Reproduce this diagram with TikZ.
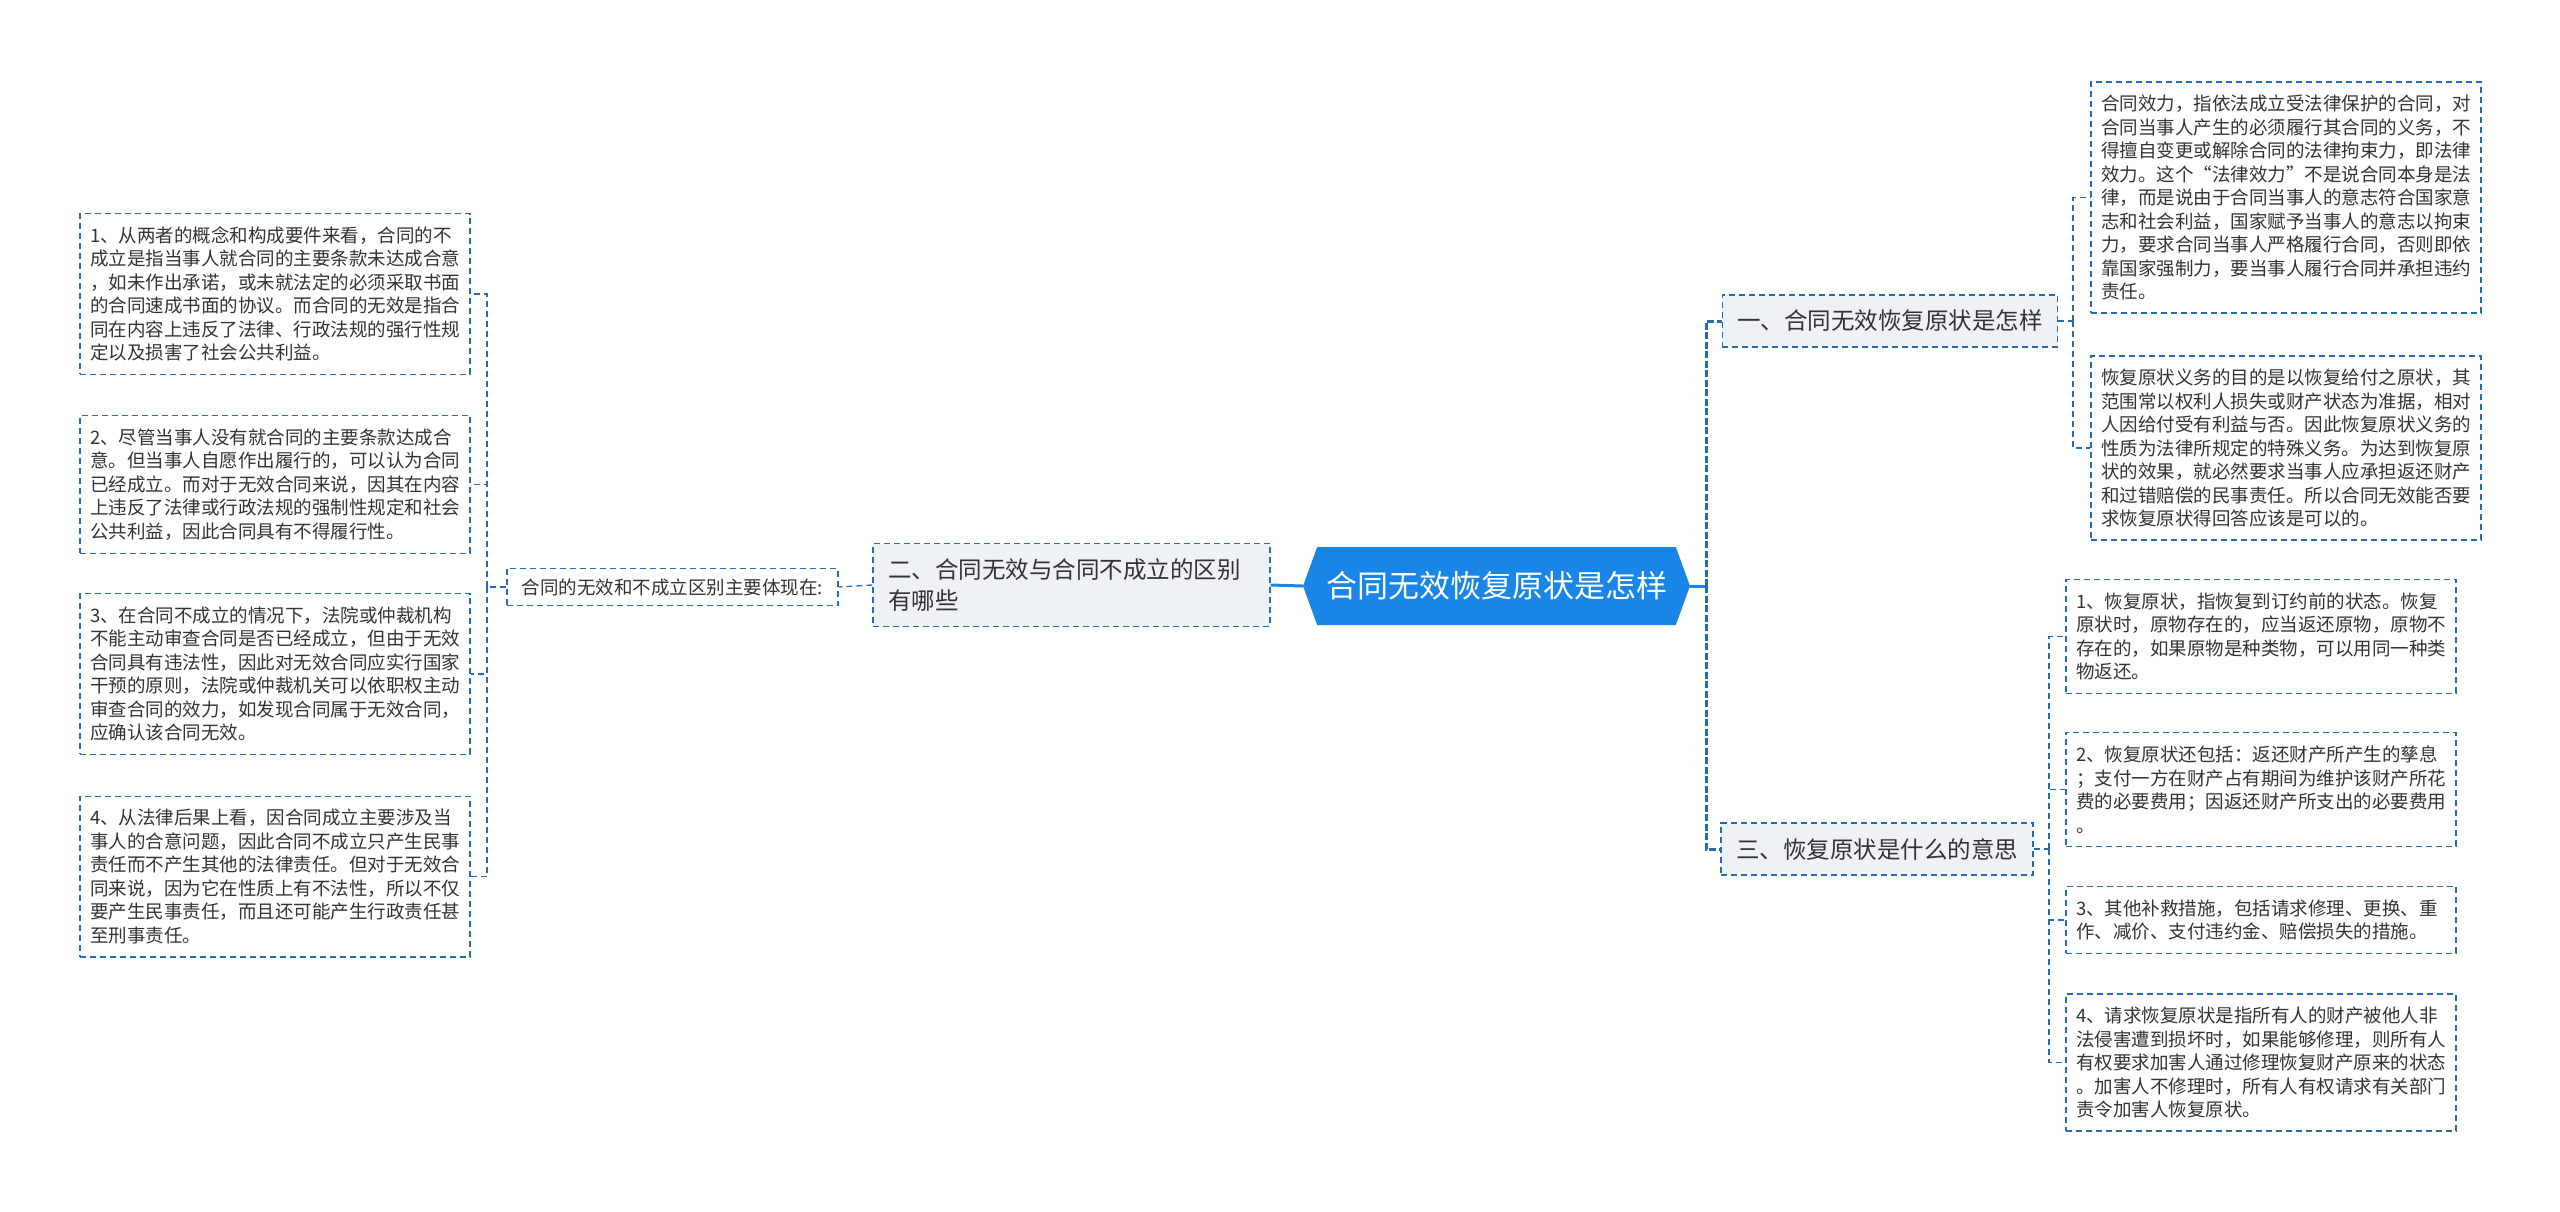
\documentclass[tikz,border=0pt]{standalone}
\usepackage{fontspec}
\setmainfont{Noto Sans CJK SC}
\usetikzlibrary{shapes.symbols}
\definecolor{rootblue}{RGB}{25,133,230}
\definecolor{linkblue}{RGB}{38,108,176}
\definecolor{branchgray}{RGB}{238,241,245}
\definecolor{inktext}{RGB}{51,51,51}
\tikzset{
  rootbox/.style={signal, signal to=west and east, signal pointer angle=140,
    fill=rootblue, text=white, minimum height=78pt, minimum width=387pt,
    inner xsep=3pt, font=\fontsize{31pt}{36pt}\selectfont},
  branchbox/.style={draw=linkblue, dash pattern=on 6pt off 4pt, line width=1.3pt,
    fill=branchgray, text=inktext, align=left, inner xsep=15pt, inner ysep=15pt,
    font=\fontsize{23.5pt}{31pt}\selectfont},
  midbox/.style={draw=linkblue, dash pattern=on 6pt off 4pt, line width=1.3pt,
    fill=white, text=inktext, inner xsep=15pt, inner ysep=10pt,
    font=\fontsize{18.5pt}{23.5pt}\selectfont},
  leafbox/.style={draw=linkblue, dash pattern=on 6pt off 4pt, line width=1.3pt,
    fill=white, text=inktext, align=left, text width=370pt, inner xsep=10pt,
    inner ysep=13pt, font=\fontsize{18.5pt}{23.5pt}\selectfont},
  link/.style={draw=linkblue, dash pattern=on 6pt off 4pt, line width=1.3pt},
  trunk/.style={draw=linkblue, dash pattern=on 7pt off 2.5pt, line width=3pt},
  rootlink/.style={draw=rootblue, line width=3pt}
}
\begin{document}
\begin{tikzpicture}[x=1pt,y=-1pt]
\fill[white] (0,0) rectangle (2560,1211);
\useasboundingbox (0,0) rectangle (2560,1211);

\node[rootbox] (root) at (1496.5,586) {合同无效恢复原状是怎样};

\node[branchbox, text width=367pt] (b2) at (1071.5,585) {二、合同无效与合同不成立的区别\\有哪些};
\node[midbox] (mid) at (672.5,587) {合同的无效和不成立区别主要体现在:};
\node[leafbox] (l1) at (275,294) {1、从两者的概念和构成要件来看，合同的不\\成立是指当事人就合同的主要条款未达成合意\\，如未作出承诺，或未就法定的必须采取书面\\的合同速成书面的协议。而合同的无效是指合\\同在内容上违反了法律、行政法规的强行性规\\定以及损害了社会公共利益。};
\node[leafbox] (l2) at (275,484.5) {2、尽管当事人没有就合同的主要条款达成合\\意。但当事人自愿作出履行的，可以认为合同\\已经成立。而对于无效合同来说，因其在内容\\上违反了法律或行政法规的强制性规定和社会\\公共利益，因此合同具有不得履行性。};
\node[leafbox] (l3) at (275,674) {3、在合同不成立的情况下，法院或仲裁机构\\不能主动审查合同是否已经成立，但由于无效\\合同具有违法性，因此对无效合同应实行国家\\干预的原则，法院或仲裁机关可以依职权主动\\审查合同的效力，如发现合同属于无效合同，\\应确认该合同无效。};
\node[leafbox] (l4) at (275,876.5) {4、从法律后果上看，因合同成立主要涉及当\\事人的合意问题，因此合同不成立只产生民事\\责任而不产生其他的法律责任。但对于无效合\\同来说，因为它在性质上有不法性，所以不仅\\要产生民事责任，而且还可能产生行政责任甚\\至刑事责任。};

\node[branchbox] (b1) at (1890,321) {一、合同无效恢复原状是怎样};
\node[leafbox] (r1) at (2286,197.5) {合同效力，指依法成立受法律保护的合同，对\\合同当事人产生的必须履行其合同的义务，不\\得擅自变更或解除合同的法律拘束力，即法律\\效力。这个“法律效力”不是说合同本身是法\\律，而是说由于合同当事人的意志符合国家意\\志和社会利益，国家赋予当事人的意志以拘束\\力，要求合同当事人严格履行合同，否则即依\\靠国家强制力，要当事人履行合同并承担违约\\责任。};
\node[leafbox] (r2) at (2286,448) {恢复原状义务的目的是以恢复给付之原状，其\\范围常以权利人损失或财产状态为准据，相对\\人因给付受有利益与否。因此恢复原状义务的\\性质为法律所规定的特殊义务。为达到恢复原\\状的效果，就必然要求当事人应承担返还财产\\和过错赔偿的民事责任。所以合同无效能否要\\求恢复原状得回答应该是可以的。};

\node[branchbox] (b3) at (1877,849) {三、恢复原状是什么的意思};
\node[leafbox] (r3) at (2261,636.5) {1、恢复原状，指恢复到订约前的状态。恢复\\原状时，原物存在的，应当返还原物，原物不\\存在的，如果原物是种类物，可以用同一种类\\物返还。};
\node[leafbox] (r4) at (2261,789.5) {2、恢复原状还包括：返还财产所产生的孳息\\；支付一方在财产占有期间为维护该财产所花\\费的必要费用；因返还财产所支出的必要费用\\。};
\node[leafbox] (r5) at (2261,920) {3、其他补救措施，包括请求修理、更换、重\\作、减价、支付违约金、赔偿损失的措施。};
\node[leafbox] (r6) at (2261,1062.5) {4、请求恢复原状是指所有人的财产被他人非\\法侵害遭到损坏时，如果能够修理，则所有人\\有权要求加害人通过修理恢复财产原来的状态\\。加害人不修理时，所有人有权请求有关部门\\责令加害人恢复原状。};

\coordinate (lj) at (487,587);
\coordinate (rj) at (1706,586);
\coordinate (j1) at (2073,321);
\coordinate (j3) at (2049,849);

\draw[rootlink] (root.west) -- (b2.east);
\draw[link] (b2.west) -- (mid.east);
\draw[link] (mid.west) -- (lj);
\foreach \n in {l1,l2,l3,l4}
  \draw[link] (lj) |- (\n.east);

\draw[rootlink] (root.east) -- (rj);
\draw[trunk] (rj) |- (b1.west);
\draw[trunk] (rj) |- (b3.west);

\draw[link] (b1.east) -- (j1);
\draw[link] (j1) |- (r1.west);
\draw[link] (j1) |- (r2.west);

\draw[link] (b3.east) -- (j3);
\foreach \n in {r3,r4,r5,r6}
  \draw[link] (j3) |- (\n.west);
\end{tikzpicture}
\end{document}
